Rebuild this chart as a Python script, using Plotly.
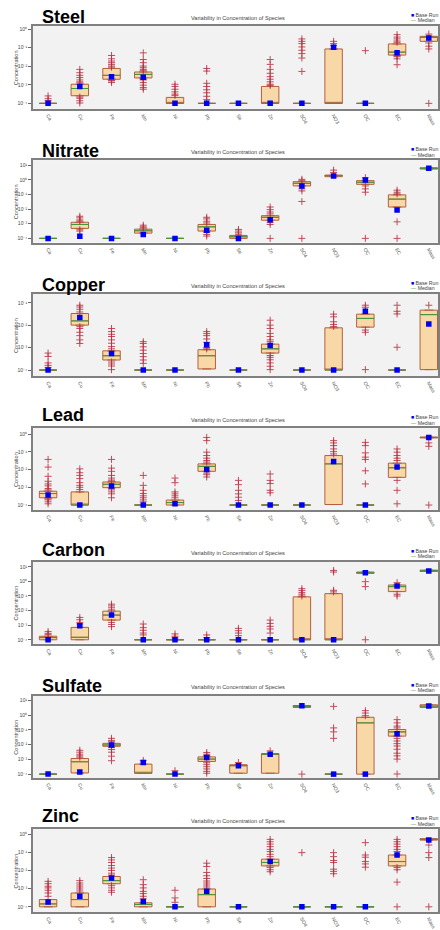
import numpy as np
import plotly.graph_objects as go

W, H = 440, 930

species = ["Ca", "Cu", "Fe", "Mn", "Ni", "Pb", "Se", "Zn", "SO4", "NO3", "OC", "EC", "Mass"]
panels = ["Steel", "Nitrate", "Copper", "Lead", "Carbon", "Sulfate", "Zinc"]
subtitle = "Variability in Concentration of Species"

# ---- data: log10(concentration) per species ----
steel_q1 = [-4, -3.59, -2.70, -2.63, -4, -4, -4, -4, -4, -4, -4, -1.40, -0.66]
steel_med = [-4, -3.20, -2.49, -2.44, -4, -4, -4, -4, -4, -4, -4, -1.24, -0.44]
steel_q3 = [-4, -2.97, -2.12, -2.31, -3.68, -4, -4, -3.09, -4, -1.07, -4, -0.80, -0.39]
steel_base = [-4, -3.09, -2.56, -2.60, -4, -4, -4, -4, -4, -0.98, -4, -1.28, -0.48]
steel_out = [
    [-3.6, -3.75, -3.85],
    [-2.17, -2.35, -2.49, -2.61, -2.74, -2.84, -2.9, -3.66, -3.73, -3.86, -3.98],
    [-1.42, -1.6, -1.72, -1.81, -1.9, -1.99, -2.05, -2.76, -2.79, -2.88],
    [-1.28, -1.64, -1.81, -1.99, -2.08, -2.17, -2.24, -2.7, -2.74, -2.88, -3.02, -3.15, -3.24],
    [-2.97, -3.09, -3.24, -3.38, -3.5, -3.57],
    [-2.12, -2.26, -2.92, -3.09, -3.27, -3.43, -3.62, -3.8],
    [],
    [-1.64, -1.9, -2.17, -2.38, -2.56, -2.7, -2.84, -2.97, -3.03],
    [-0.53, -0.66, -0.78, -0.96, -1.14, -1.32, -1.56, -2.28],
    [-0.66, -0.78, -0.89],
    [-1.16],
    [-0.3, -0.43, -0.53, -0.64, -0.71, -1.45, -1.49, -1.6, -1.92],
    [-0.27, -0.75, -0.92, -1.07, -4.0],
]

nitrate_q1 = [-4, -3.32, -4, -3.64, -4, -3.50, -4.0, -2.76, -0.42, 0.21, -0.31, -1.86, 0.73]
nitrate_med = [-4, -3.05, -4, -3.48, -4, -3.21, -3.89, -2.56, -0.24, 0.28, -0.17, -1.32, 0.78]
nitrate_q3 = [-4, -2.90, -4, -3.37, -4, -3.05, -3.80, -2.45, -0.13, 0.32, -0.06, -1.03, 0.82]
nitrate_base = [-4, -3.86, -4, -3.73, -4, -3.44, -4, -2.72, -0.42, 0.26, -0.01, -2.06, 0.78]
nitrate_out = [
    [],
    [-2.49, -2.6, -2.74, -2.82, -3.41, -3.5],
    [],
    [-3.1, -3.21, -3.28],
    [],
    [-2.56, -2.67, -2.83, -2.95, -3.59, -3.73, -3.84],
    [-3.39, -3.5, -3.62, -3.72],
    [-1.86, -2.04, -2.2, -2.33, -2.92, -3.05, -4.0],
    [0.03, -0.06, -0.62, -0.76, -1.48, -4.0],
    [0.66, 0.5],
    [0.14, -0.42, -0.62, -0.85, -4.0],
    [-0.71, -0.85, -0.96, -2.87, -4.0],
    [],
]

copper_q1 = [-4, -1.99, -3.55, -4, -4, -3.95, -4, -3.24, -4, -4, -2.08, -4, -3.98]
copper_med = [-4, -1.80, -3.36, -4, -4, -3.36, -4, -3.05, -4, -4, -1.69, -4, -1.52]
copper_q3 = [-4, -1.47, -3.14, -4, -4, -3.09, -4, -2.84, -4, -2.11, -1.50, -4, -1.32]
copper_base = [-4, -1.65, -3.26, -4, -4, -2.87, -4, -2.90, -4, -4, -1.37, -4, -1.94]
copper_out = [
    [-3.24, -3.39, -3.68, -3.79, -3.88],
    [-1.1, -1.18, -1.28, -1.4, -2.06, -2.14, -2.31, -2.46, -2.65, -2.81],
    [-2.14, -2.28, -2.4, -2.5, -2.65, -2.8, -2.95, -3.05, -3.64, -3.73, -3.82, -3.98],
    [-2.73, -2.81, -2.96, -3.11, -3.26, -3.4, -3.55, -3.7],
    [],
    [-2.28, -2.37, -2.46, -2.61, -2.76, -2.99, -3.05],
    [],
    [-1.77, -1.99, -2.14, -2.36, -2.5, -2.65, -2.73, -3.35, -3.43, -3.54, -3.68, -3.83, -3.98],
    [],
    [-1.5, -1.62, -1.84, -1.96, -2.05],
    [-1.1, -1.19, -2.21, -2.31, -3.98],
    [-1.1, -1.37, -1.49, -2.98],
    [-1.1],
]

lead_q1 = [-3.59, -4, -3.02, -4, -4, -2.10, -4, -4, -4, -3.97, -4, -2.44, -0.22]
lead_med = [-3.35, -4, -2.83, -4, -3.86, -1.82, -4, -4, -4, -1.68, -4, -1.90, -0.19]
lead_q3 = [-3.22, -3.26, -2.70, -4, -3.72, -1.68, -4, -4, -4, -1.21, -4, -1.64, -0.17]
lead_base = [-3.44, -4, -2.92, -4, -3.93, -1.99, -4, -4, -4, -1.55, -4, -1.86, -0.19]
lead_out = [
    [-1.43, -1.86, -2.38, -2.66, -2.81, -2.92, -3.07, -3.15, -3.65, -3.71, -3.82, -3.93],
    [-1.96, -2.18, -2.33, -2.51, -2.74, -2.89, -3.0, -3.13],
    [-1.43, -1.92, -2.1, -2.33, -2.48, -2.59, -2.65, -3.08, -3.15, -3.26, -3.37, -3.59],
    [-2.33, -2.89, -3.17, -3.35, -3.48, -3.59, -3.71, -3.82],
    [-2.48, -2.74, -3.26, -3.37, -3.48, -3.59],
    [-0.19, -0.37, -1.02, -1.21, -1.36, -1.49, -1.58, -2.2, -2.29, -2.42],
    [-2.61, -2.85, -3.17, -3.37, -3.56, -3.74],
    [-2.25, -2.61, -2.79, -3.17, -3.31],
    [],
    [-0.37, -0.5, -0.65, -0.84, -0.99, -1.12],
    [-0.47, -0.65, -1.06, -1.3, -1.43, -2.07, -2.81],
    [-0.84, -1.02, -1.21, -1.36, -1.49, -2.61, -3.17, -3.93],
    [-0.5, -0.69, -4.0],
]

carbon_q1 = [-4.0, -4.0, -2.65, -4, -4, -4, -4, -4, -4, -4, 0.55, -0.70, 0.68]
carbon_med = [-3.85, -3.83, -2.31, -4, -4, -4, -4, -4, -4, -4, 0.59, -0.36, 0.73]
carbon_q3 = [-3.76, -3.15, -2.04, -4, -4, -4, -4, -4, -1.06, -0.84, 0.64, -0.25, 0.77]
carbon_base = [-4, -3.04, -2.31, -4, -4, -4, -4, -4, -4, -4, 0.59, -0.32, 0.71]
carbon_out = [
    [-3.44, -3.56, -3.65],
    [-2.47, -2.63, -2.81, -2.92],
    [-1.56, -1.68, -1.81, -1.95, -2.81, -2.95, -3.1],
    [-2.92, -3.17, -3.35, -3.54, -3.67],
    [-3.6, -3.76, -3.88],
    [-3.67, -3.85],
    [-3.22, -3.38, -3.54, -3.72],
    [-2.65, -2.88, -3.08, -3.26, -3.54],
    [-0.5, -0.63, -0.77, -0.88, -1.0],
    [0.75, 0.64, -0.61, -0.72],
    [-0.02, -0.36, -4.0],
    [-0.09, -0.88, -1.0],
    [],
]

sulfate_q1 = [-4, -3.92, -2.11, -3.94, -4, -3.14, -3.94, -3.94, 0.53, -4, -4, -1.42, 0.53]
sulfate_med = [-4, -3.16, -2.02, -3.94, -4, -2.98, -3.43, -2.65, 0.60, -4, -0.52, -1.13, 0.62]
sulfate_q3 = [-4, -2.94, -1.91, -3.32, -4, -2.83, -3.36, -2.60, 0.66, -4, -0.14, -0.97, 0.71]
sulfate_base = [-4, -3.85, -2.02, -3.21, -4, -2.87, -3.43, -2.65, 0.64, -4, -4, -1.26, 0.62]
sulfate_out = [
    [],
    [-2.38, -2.51, -2.65, -2.76, -2.85],
    [-1.57, -1.71, -1.8, -2.2, -2.33, -2.51, -2.78, -3.09],
    [-3.07],
    [-3.77],
    [-2.53, -2.65, -2.74, -3.23, -3.36, -3.5, -3.65, -3.81, -3.94],
    [-3.21],
    [-2.42],
    [-4.0],
    [0.6, -0.86, -1.13, -1.57],
    [0.31, 0.15, -0.03],
    [-0.3, -0.52, -0.74, -0.86, -1.57, -1.75, -1.93, -2.09, -2.31, -2.58, -2.76, -2.98, -3.99],
    [],
]

zinc_q1 = [-4, -4, -2.73, -4, -4, -4, -4, -1.75, -4, -4, -4, -1.75, -0.33]
zinc_med = [-3.84, -3.60, -2.56, -3.87, -4, -3.33, -4, -1.56, -4, -4, -4, -1.51, -0.29]
zinc_q3 = [-3.60, -3.24, -2.33, -3.78, -4, -3.02, -4, -1.38, -4, -4, -4, -1.15, -0.25]
zinc_base = [-3.73, -3.42, -2.42, -3.71, -4, -3.15, -4, -1.51, -4, -4, -4, -1.15, -0.33]
zinc_out = [
    [-2.6, -2.73, -2.87, -2.96, -3.09, -3.24, -3.42],
    [-2.56, -2.69, -2.8, -2.91, -3.02, -3.13],
    [-1.29, -1.42, -1.56, -1.73, -1.87, -2.0, -2.15, -2.25, -2.84, -2.96, -3.09, -3.2],
    [-2.51, -2.78, -2.96, -3.15, -3.27, -3.42, -3.56],
    [-3.09, -3.51, -3.75],
    [-1.6, -1.78, -2.11, -2.29, -2.44, -2.58, -2.69, -2.8, -2.91],
    [],
    [-0.29, -0.42, -0.55, -0.69, -0.84, -0.96, -1.11, -1.24, -1.84, -1.96, -2.07],
    [-1.02],
    [-1.02, -1.24, -1.45, -1.56, -1.93, -2.05, -2.18],
    [-0.47, -1.15, -1.27, -1.51, -1.64, -1.82],
    [-0.29, -0.42, -0.55, -0.69, -0.84, -0.96, -1.84, -1.96, -2.64, -4.0],
    [-0.6, -1.02, -1.29, -4.0],
]

# tick exponents shown on each panel's y axis
steel_ticks = [0, -1, -2, -3, -4]
nitrate_ticks = [1, 0, -1, -2, -3, -4]
copper_ticks = [-1, -2, -3, -4]
lead_ticks = [0, -1, -2, -3, -4]
carbon_ticks = [1, 0, -1, -2, -3, -4]
sulfate_ticks = [1, 0, -1, -2, -3, -4]
zinc_ticks = [0, -1, -2, -3, -4]

# ---- layout geometry (pixels) ----
frame_top = [26, 161.7, 296.7, 432.3, 567, 702.3, 837.3]
frame_bot = [110, 245, 380, 515, 650, 785.7, 921]
yranges = [[-4.30, 0.18], [-4.29, 1.34], [-4.28, -0.59], [-4.28, 0.335],
           [-4.27, 1.36], [-4.27, 1.34], [-4.29, 0.27]]
title_y = [17, 152.7, 288, 419, 555.7, 693, 824.3]

data = [
    (steel_q1, steel_med, steel_q3, steel_base, steel_out, steel_ticks),
    (nitrate_q1, nitrate_med, nitrate_q3, nitrate_base, nitrate_out, nitrate_ticks),
    (copper_q1, copper_med, copper_q3, copper_base, copper_out, copper_ticks),
    (lead_q1, lead_med, lead_q3, lead_base, lead_out, lead_ticks),
    (carbon_q1, carbon_med, carbon_q3, carbon_base, carbon_out, carbon_ticks),
    (sulfate_q1, sulfate_med, sulfate_q3, sulfate_base, sulfate_out, sulfate_ticks),
    (zinc_q1, zinc_med, zinc_q3, zinc_base, zinc_out, zinc_ticks),
]

FONT = "Liberation Sans, Arial, sans-serif"
BOX_FILL = "#f8d8a6"
BOX_LINE = "#b4603f"
MED_COL = "#3c9a3c"
OUT_COL = "#b83040"
BASE_COL = "#0000f0"
BOXW = 0.55
SUP = {"0": "\u2070", "1": "\u00b9", "2": "\u00b2", "3": "\u00b3", "4": "\u2074", "-": "\u207b"}


def sup_label(t):
    return "10" + "".join(SUP[c] for c in str(t))


def py(p):
    return 1 - p / H


fig = go.Figure()
layout = dict(
    width=W, height=H, margin=dict(l=0, r=0, t=0, b=0),
    paper_bgcolor="white", plot_bgcolor="#f2f2f2",
    showlegend=False, font=dict(family=FONT, size=5, color="#444"),
    annotations=[],
)

xidx = np.arange(len(species))

for k, (q1, med, q3, base, outs, ticks) in enumerate(data):
    n = "" if k == 0 else str(k + 1)
    xa, ya = "x" + n, "y" + n
    q1v = 10 ** np.array(q1, dtype=float)
    medv = 10 ** np.array(med, dtype=float)
    q3v = 10 ** np.array(q3, dtype=float)
    basev = 10 ** np.array(base, dtype=float)

    fig.add_trace(go.Box(
        x=xidx, q1=q1v, median=medv, q3=q3v, lowerfence=q1v, upperfence=q3v,
        width=BOXW, fillcolor=BOX_FILL, line=dict(color=BOX_LINE, width=1),
        boxpoints=False, xaxis=xa, yaxis=ya, hoverinfo="skip",
    ))
    # median lines (green)
    mx, my = [], []
    for i in xidx:
        mx += [i - BOXW / 2, i + BOXW / 2, None]
        my += [medv[i], medv[i], None]
    fig.add_trace(go.Scatter(x=mx, y=my, mode="lines", line=dict(color=MED_COL, width=1),
                             xaxis=xa, yaxis=ya, hoverinfo="skip"))
    # outliers (red +)
    ox, oy = [], []
    for i, vals in enumerate(outs):
        ox += [i] * len(vals)
        oy += list(10 ** np.array(vals, dtype=float))
    fig.add_trace(go.Scatter(x=ox, y=oy, mode="markers",
                             marker=dict(symbol="cross-thin", size=5, opacity=0.85,
                                         line=dict(color=OUT_COL, width=1)),
                             xaxis=xa, yaxis=ya, hoverinfo="skip"))
    # base run (blue squares)
    fig.add_trace(go.Scatter(x=xidx, y=basev, mode="markers",
                             marker=dict(symbol="square", size=5.5, color=BASE_COL),
                             xaxis=xa, yaxis=ya, hoverinfo="skip"))

    dom = [py(frame_bot[k]), py(frame_top[k])]
    layout["xaxis" + n] = dict(
        domain=[33 / W, 1], range=[-0.48, 12.29], anchor=ya,
        tickmode="array", tickvals=list(xidx), ticktext=species, tickangle=60,
        tickfont=dict(size=5, color="#555"), ticks="", showgrid=False, zeroline=False,
        showline=True, mirror=True, linecolor="#808080", linewidth=1.5,
    )
    layout["yaxis" + n] = dict(
        domain=dom, type="log", range=yranges[k], anchor=xa,
        tickmode="array", tickvals=[10.0 ** t for t in ticks],
        ticktext=[sup_label(t) for t in ticks],
        tickfont=dict(size=5, color="#444"), ticks="outside", ticklen=3,
        tickcolor="#666", showgrid=False, zeroline=False,
        showline=True, mirror=True, linecolor="#808080", linewidth=1.5,
    )
    ann = layout["annotations"]
    ann.append(dict(text="<b>%s</b>" % panels[k], x=40 / W, y=py(title_y[k]), xref="paper",
                    yref="paper", xanchor="left", yanchor="middle", showarrow=False,
                    font=dict(size=18, color="black", family=FONT)))
    ann.append(dict(text=subtitle, x=238.8 / W, y=py(frame_top[k] - 8.3), xref="paper",
                    yref="paper", xanchor="center", yanchor="middle", showarrow=False,
                    font=dict(size=5.6, color="#444")))
    ann.append(dict(text="<span style='color:%s'>\u25A0</span> Base Run" % BASE_COL,
                    x=411 / W, y=py(frame_top[k] - 11), xref="paper", yref="paper",
                    xanchor="left", yanchor="middle", showarrow=False,
                    font=dict(size=5.2, color="#444")))
    ann.append(dict(text="<span style='color:%s'>\u2014</span> Median" % MED_COL,
                    x=411 / W, y=py(frame_top[k] - 5.5), xref="paper", yref="paper",
                    xanchor="left", yanchor="middle", showarrow=False,
                    font=dict(size=5.2, color="#444")))
    ann.append(dict(text="Concentration", x=16 / W, y=(dom[0] + dom[1]) / 2, xref="paper",
                    yref="paper", xanchor="center", yanchor="middle", textangle=-90,
                    showarrow=False, font=dict(size=5.6, color="#444")))

fig.update_layout(**layout)
fig.write_html("out.html")
